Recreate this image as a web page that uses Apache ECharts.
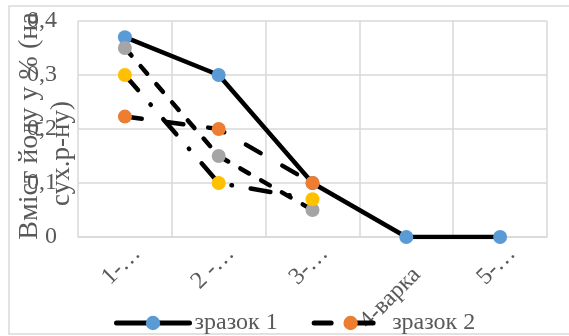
<!DOCTYPE html>
<html>
<head>
<meta charset="utf-8">
<script src="https://cdn.jsdelivr.net/npm/echarts@6/dist/echarts.min.js"></script>
<style>
  html, body { margin: 0; padding: 0; background: #fff; }
  #chart { width: 569px; height: 336px; }
</style>
</head>
<body>
<div id="chart"></div>
<script>
// Categories (batches) along the x axis
var categories = ['1-…', '2 -…', '3-…', '4-варка', '5-…'];

// Iodine content per sample, % on dry matter
var sample1 = [0.37, 0.30, 0.10, 0.00, 0.00];
var sample2 = [0.223, 0.20, 0.10, null, null];
var sample3 = [0.35, 0.15, 0.05, null, null];
var sample4 = [0.30, 0.10, 0.07, null, null];

var seriesNames = ['зразок 1', 'зразок 2', 'зразок 3', 'зразок 4'];
var yTickLabels = ['0', '0,1', '0,2', '0,3', '0,4'];
var yTitleLines = ['Вміст йоду у % (на', 'сух.р-ну)'];

var FONT = '"Liberation Serif", "Times New Roman", serif';
var TEXT = '#595959';
var GRID = '#d9d9d9';
var FS = 24;

function lineSeries(name, data, color, dash) {
  return {
    name: name,
    type: 'line',
    data: data,
    symbol: 'circle',
    symbolSize: 14,
    connectNulls: false,
    itemStyle: { color: color, borderWidth: 0 },
    lineStyle: { color: '#000', width: 4.5, type: dash, cap: 'round', join: 'round' },
    emphasis: { disabled: true },
    animation: false
  };
}

var labelFont = { fontFamily: FONT, fontSize: FS, color: TEXT };
var titleStyle = { fontFamily: FONT, fontSize: 27, color: TEXT, lineHeight: 32 };

var chart = echarts.init(document.getElementById('chart'), null, { renderer: 'canvas' });
chart.setOption({
  animation: false,
  graphic: [{
    type: 'rect',
    shape: { x: 9, y: 6, width: 575, height: 328 },
    style: { fill: 'none', stroke: GRID, lineWidth: 1.5 },
    silent: true
  }],
  grid: { left: 78, right: 22, top: 21, bottom: 99, containLabel: false, outerBoundsMode: 'none' },
  legend: {
    data: [seriesNames[0], seriesNames[1]],
    left: 114,
    top: 311,
    itemWidth: 73,
    itemHeight: 18,
    itemGap: 34,
    padding: 0,
    lineStyle: { width: 5 },
    textStyle: labelFont
  },
  xAxis: {
    type: 'category',
    data: categories,
    boundaryGap: true,
    axisLine: { show: true, lineStyle: { color: GRID, width: 1.5 } },
    axisTick: { show: false },
    splitLine: { show: true, lineStyle: { color: GRID, width: 1.5 } },
    axisLabel: {
      rotate: 45,
      interval: 0,
      hideOverlap: false,
      margin: 1,
      verticalAlign: 'top',
      fontFamily: FONT,
      fontSize: FS,
      color: TEXT,
      // the long fourth label sits further along its own baseline
      formatter: function (v, i) {
        return (i === 3 ? '{w|' : '{n|') + v + '}';
      },
      rich: {
        n: Object.assign({ padding: [5, 0, 0, 0] }, labelFont),
        w: Object.assign({ padding: [19, 16, 0, 0] }, labelFont)
      }
    }
  },
  yAxis: {
    type: 'value',
    min: 0,
    max: 0.4,
    interval: 0.1,
    axisLine: { show: false },
    axisTick: { show: false },
    splitLine: { show: true, lineStyle: { color: GRID, width: 1.5 } },
    axisLabel: {
      margin: 21,
      fontFamily: FONT,
      fontSize: FS,
      color: TEXT,
      formatter: function (v) { return yTickLabels[Math.round(v * 10)]; }
    },
    name: '{l1|' + yTitleLines[0] + '}\n{l2|' + yTitleLines[1] + '}',
    nameLocation: 'middle',
    nameRotate: 90,
    nameGap: 0,
    nameMoveOverlap: false,
    nameTextStyle: {
      fontFamily: FONT, fontSize: 27, color: TEXT, lineHeight: 32, align: 'center',
      rich: {
        l1: Object.assign({}, titleStyle, { fontSize: 28, padding: [0, 0, 0, 6] }),
        l2: Object.assign({ padding: [0, 49, 0, 0] }, titleStyle)
      }
    }
  },
  series: [
    lineSeries(seriesNames[0], sample1, '#5B9BD5', 'solid'),
    lineSeries(seriesNames[1], sample2, '#ED7D31', [17, 25]),
    lineSeries(seriesNames[2], sample3, '#A5A5A5', [10, 14]),
    lineSeries(seriesNames[3], sample4, '#FFC000', [20, 19, 0.5, 19])
  ]
});
</script>
</body>
</html>
